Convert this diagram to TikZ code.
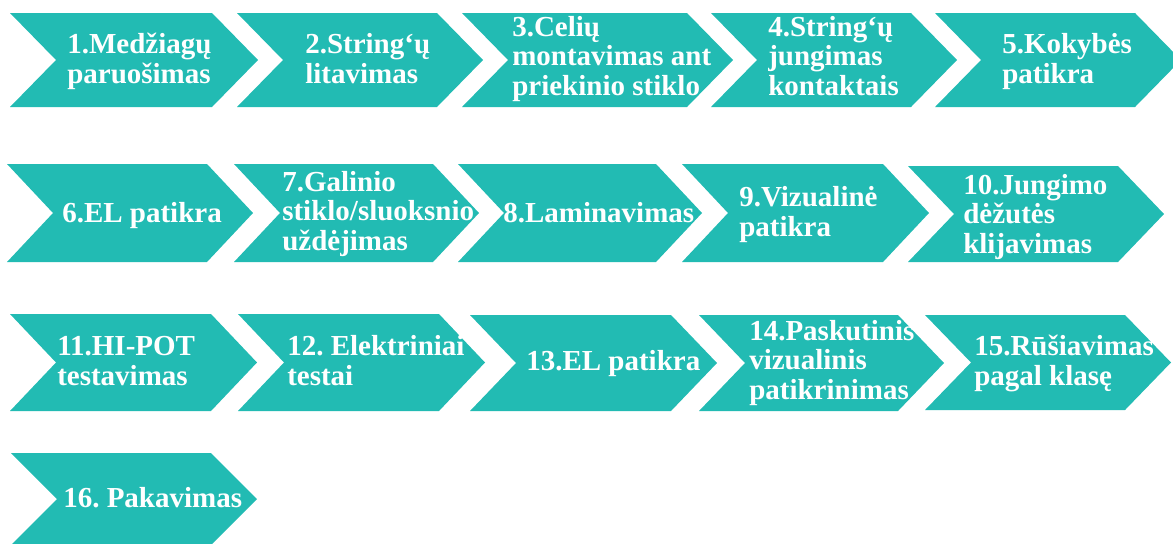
\documentclass[tikz,border=0pt]{standalone}
\usepackage{fontspec}
\setmainfont{Liberation Serif}
\frenchspacing
\definecolor{stepteal}{RGB}{34,187,179}
\newcommand{\stepfont}{\fontsize{21.75}{22}\selectfont\bfseries}
% chevron: left, top, right, bottom
\newcommand{\chevron}[4]{%
  \fill[stepfill] (#1,#2) -- (#3,#2) -- ({#3+46},{(#2+#4)/2}) -- (#3,#4)
    -- (#1,#4) -- ({#1+46},{(#2+#4)/2}) -- cycle;}
\usetikzlibrary{positioning}

\begin{document}
\begin{tikzpicture}
[x=0.75pt,y=-0.75pt,
stepfill/.style={fill=stepteal},
steptext/.style={anchor=base west,align=left,inner sep=0pt,text=white,font=\stepfont}]
\clip (0,0) rectangle (1173,543);

% first row
\chevron{10}{13}{212}{107}
\chevron{237}{13}{437}{107}
\chevron{462}{13}{687}{107}
\chevron{711}{13}{911}{107}
\chevron{935}{13}{1135}{107}
\node[steptext] (s1) at (67,83) {1.Medžiagų\\paruošimas};
\node[steptext] (s2) at (305,83) {2.String‘ų\\litavimas};
\node[steptext] (s3) at (512,95) {3.Celių\\montavimas ant\\priekinio stiklo};
\node[steptext] (s4) at (768,95) {4.String‘ų\\jungimas\\kontaktais};
\node[steptext] (s5) at (1002,83) {5.Kokybės\\patikra};

% second row
\chevron{7}{164}{207}{262}
\chevron{234}{164}{433}{262}
\chevron{458}{164}{656}{262}
\chevron{682}{164}{883}{262}
\chevron{908}{166}{1118}{262}
\node[steptext] (s6) at (62,222) {6.EL patikra};
\node[steptext] (s7) at (282,250) {7.Galinio\\stiklo/sluoksnio\\uždėjimas};
\node[steptext] (s8) at (503,222) {8.Laminavimas};
\node[steptext] (s9) at (739,236) {9.Vizualinė\\patikra};
\node[steptext] (s10) at (963,253) {10.Jungimo\\dėžutės\\klijavimas};

% third row
\chevron{10}{314}{211}{411}
\chevron{238}{314}{439}{411}
\chevron{470}{315}{671}{411}
\chevron{699}{315}{898}{411}
\chevron{925}{315}{1125}{410}
\node[steptext] (s11) at (57,385) {11.HI-POT\\testavimas};
\node[steptext] (s12) at (287,385) {12. Elektriniai\\testai};
\node[steptext] (s13) at (526,370) {13.EL patikra};
\node[steptext] (s14) at (749,399) {14.Paskutinis\\vizualinis\\patikrinimas};
\node[steptext] (s15) at (974,385) {15.Rūšiavimas\\pagal klasę};

% last row
\chevron{11}{453}{211}{545}
\node[steptext] (s16) at (63,507) {16. Pakavimas};
\end{tikzpicture}
\end{document}
